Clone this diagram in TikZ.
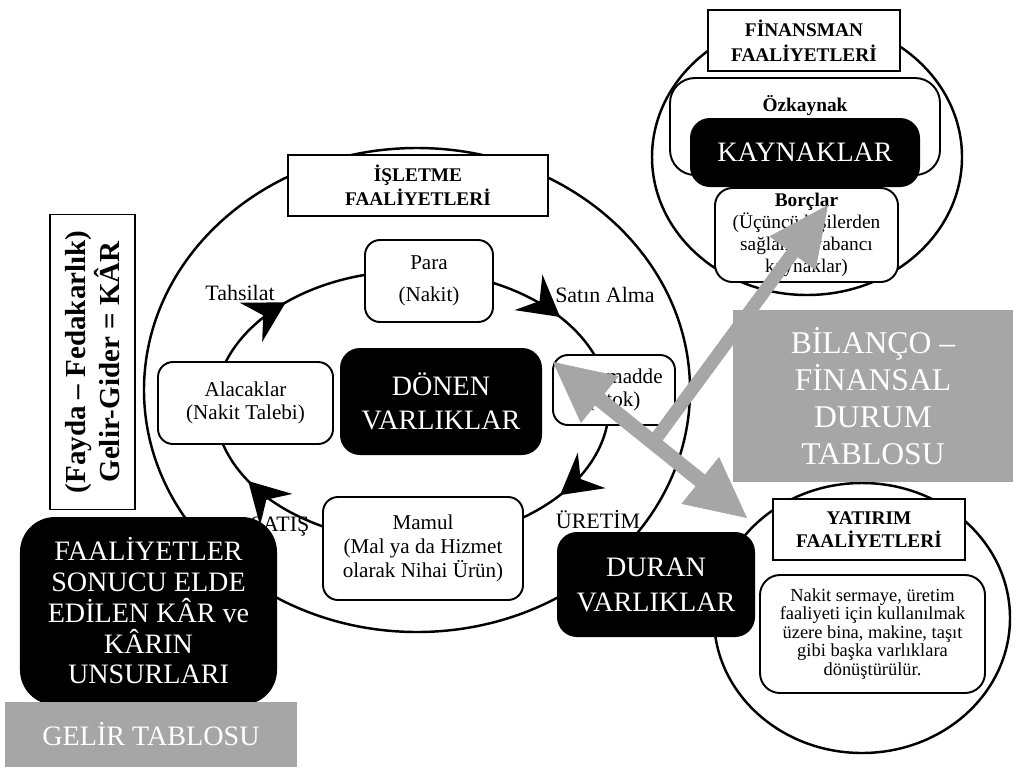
\documentclass[tikz,border=0pt]{standalone}
\usepackage{fontspec}
\setmainfont{Liberation Serif}
\usetikzlibrary{arrows.meta,shapes.geometric,decorations.markings,positioning}
\definecolor{tablegray}{RGB}{166,166,166}
\tikzset{cycletip/.tip={Stealth[length=8mm,width=9mm,inset=2.8mm]},
  bigtip/.tip={Triangle[length=12mm,width=12mm,line width=0.4pt]}}

\begin{document}
\begin{tikzpicture}[x=0.2mm,y=-0.2mm,
  every node/.style={align=center,inner sep=1pt},
  activity/.style={ellipse,draw,line width=1.4pt,inner sep=0pt},
  stagebox/.style={draw,fill=white,rounded corners=3mm,line width=1.1pt,font=\fontsize{12}{13.5}\selectfont},
  titlebox/.style={draw,fill=white,line width=0.6pt,font=\bfseries\fontsize{11}{13.5}\selectfont},
  blackbox/.style={fill=black,text=white,rounded corners=4mm,font=\fontsize{16}{19.5}\selectfont},
  graybox/.style={fill=tablegray,text=white},
  steplabel/.style={font=\fontsize{12.5}{14}\selectfont},
  bigarrow/.style={draw=tablegray,line width=3mm}]
\useasboundingbox (0,0) rectangle (1016,767);

% faaliyet halkalari
\node[activity,minimum width=109.2mm,minimum height=96.8mm] (isletme) at (417,390) {};
\node[activity,minimum width=62mm,minimum height=55.2mm] (finansman) at (807,157) {};
\node[activity,minimum width=59.2mm,minimum height=54mm] (yatirim) at (862,618) {};

% donen varliklar cevrimi
\draw[line width=1.4pt,postaction={decorate},decoration={markings,
    mark=at position 0.10 with {\arrow{cycletip}},
    mark=at position 0.42 with {\arrow{cycletip}},
    mark=at position 0.625 with {\arrow{cycletip}},
    mark=at position 0.90 with {\arrow{cycletip}}}]
  (412,406) ellipse [x radius=197, y radius=135];

\node[stagebox,minimum width=25.6mm,minimum height=16.4mm] (para) at (429,281) {Para\\[5pt](Nakit)};
\node[stagebox,minimum width=24.4mm,minimum height=14mm] (hammadde) at (614,390) {Hammadde\\(Stok)};
\node[stagebox,minimum width=35mm,minimum height=16.4mm] (alacak) at (245.5,403) {Alacaklar\\(Nakit Talebi)};
\node[stagebox,minimum width=40mm,minimum height=20.6mm] (mamul) at (423,548.5) {Mamul\\(Mal ya da Hizmet\\olarak Nihai Ürün)};
\node[blackbox,minimum width=40.4mm,minimum height=21.4mm] (donen) at (441,401.5) {DÖNEN\\VARLIKLAR};

\node[titlebox,minimum width=52mm,minimum height=12.2mm] (isletmetitle) at (418,185.5) {İŞLETME\\FAALİYETLERİ};

\node[steplabel] (tahsilat) at (240,293) {Tahsilat};
\node[steplabel] (satinalma) at (605,295) {Satın Alma};
\node[steplabel] (uretim) at (598,520) {ÜRETİM};
\node[steplabel] (satis) at (280,527) {SATIŞ};

% finansman
\node[titlebox,minimum width=38.4mm,minimum height=12.2mm,font=\bfseries\fontsize{11}{14}\selectfont] (finanstitle) at (804,40.5) {FİNANSMAN\\FAALİYETLERİ};
\node[draw,fill=white,rounded corners=5mm,line width=1.1pt,minimum width=54mm,minimum height=19.4mm] (ozkaynak) at (805,126.5) {};
\node[font=\bfseries\fontsize{11}{13}\selectfont] (ozkaynaklbl) at (805,106) {Özkaynak};
\node[blackbox,minimum width=46mm,minimum height=13.8mm] (kaynaklar) at (805,152.5) {KAYNAKLAR};
\node[stagebox,rounded corners=3.5mm,minimum width=36.6mm,minimum height=18.8mm,font=\fontsize{11}{12.5}\selectfont] (borclar) at (806.5,235) {\textbf{Borçlar}\\(Üçüncü kişilerden\\sağlanan yabancı\\kaynaklar)};

% yatirim
\node[titlebox,minimum width=38.4mm,minimum height=12.2mm] (yatirimtitle) at (869,529.5) {YATIRIM\\FAALİYETLERİ};
\node[stagebox,rounded corners=4mm,minimum width=45mm,minimum height=23.6mm,font=\fontsize{10.5}{10.5}\selectfont] (nakit) at (872.5,634) {Nakit sermaye, üretim\\faaliyeti için kullanılmak\\üzere bina, makine, taşıt\\gibi başka varlıklara\\dönüştürülür.};

% bilanco oklari
\coordinate (hamtip) at (553,362);
\coordinate (yattip) at (747,518);
\coordinate (finbase) at (655,440);
\coordinate (fintip) at (828,205);
\draw[bigarrow,{bigtip[fill=tablegray]}-{bigtip[fill=tablegray]}] (hamtip) -- (yattip);
\draw[bigarrow,line width=2.6mm,-{bigtip[length=12mm,width=11.4mm,fill=tablegray]}] (finbase) -- (fintip);

\node[graybox,minimum width=56mm,minimum height=34.4mm,font=\fontsize{18}{21}\selectfont] (bilanco) at (873,396) {BİLANÇO –\\FİNANSAL\\DURUM\\TABLOSU};

% gelir tablosu
\node[draw,line width=1.1pt,rotate=90,minimum width=59mm,minimum height=17mm,font=\bfseries\fontsize{16.5}{19}\selectfont] (karformula) at (92.5,362) {(Fayda – Fedakarlık)\\Gelir-Gider = KÂR};
\node[blackbox,rounded corners=7mm,minimum width=51.4mm,minimum height=37.6mm,font=\fontsize{16}{17.5}\selectfont] (faaliyetler) at (148.5,611) {FAALİYETLER\\SONUCU ELDE\\EDİLEN KÂR ve\\KÂRIN\\UNSURLARI};
\node[graybox,minimum width=58.4mm,minimum height=13mm,font=\fontsize{16}{19}\selectfont] (gelir) at (151,734.5) {GELİR TABLOSU};

\node[blackbox,minimum width=39.6mm,minimum height=21mm,font=\fontsize{16}{20}\selectfont] (duran) at (656,584.5) {DURAN\\VARLIKLAR};
\end{tikzpicture}
\end{document}
